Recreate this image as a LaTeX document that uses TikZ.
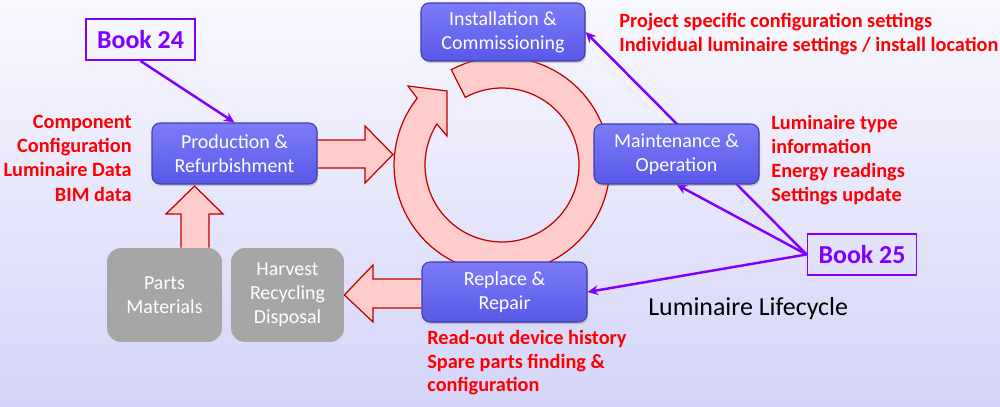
\documentclass[tikz,border=0pt]{standalone}
\usepackage{fontspec}
\setmainfont{Carlito}
\usetikzlibrary{arrows.meta,shadows,calc}
\definecolor{bgtop}{HTML}{F8F8FE}
\definecolor{bgbot}{HTML}{D4D4F8}
\definecolor{boxtop}{HTML}{7C7CF9}
\definecolor{boxbot}{HTML}{5858E8}
\definecolor{boxline}{HTML}{3E3EAE}
\definecolor{pinkfill}{HTML}{FFCCCC}
\definecolor{ringred}{HTML}{C00000}
\definecolor{bookviolet}{HTML}{8000FF}
\definecolor{greyfill}{HTML}{A6A6A6}
\pgfdeclarelayer{bg}
\pgfdeclarelayer{mid}
\pgfsetlayers{bg,mid,main}
\tikzset{
  bluebox/.style={rounded corners=0.16cm, top color=boxtop, bottom color=boxbot,
    draw=boxline, line width=0.6pt, text=white, align=center, inner sep=0pt,
    font=\fontsize{11.34}{13.6}\selectfont,
    drop shadow={shadow xshift=0.6pt, shadow yshift=-1.2pt, opacity=0.35}},
  greybox/.style={rounded corners=0.28cm, fill=greyfill, text=white, align=center,
    inner sep=0pt, font=\fontsize{11.34}{13.6}\selectfont},
  bookbox/.style={draw=bookviolet, line width=1.1pt, text=bookviolet, inner sep=0pt,
    font=\fontsize{14.74}{17}\selectfont\bfseries},
  redtxt/.style={text=red, inner sep=0pt, font=\fontsize{11.55}{13.6}\selectfont\bfseries},
  link/.style={draw=bookviolet, line width=1.4pt, -{Stealth[length=6pt,width=5.5pt]}},
  blockarrow/.style={fill=pinkfill, draw=ringred, line width=0.7pt, line join=miter}
}
\begin{document}
\begin{tikzpicture}[x=0.02cm, y=-0.02cm]
\useasboundingbox (0,0) rectangle (1000,406);
\begin{pgfonlayer}{bg}
  \fill[top color=bgtop, bottom color=bgbot] (0,0) rectangle (1000,406);
\end{pgfonlayer}

% boxes
\node[bluebox, minimum width=3.28cm, minimum height=1.16cm] (inst) at (503,32) {Installation \&\\Commissioning};
\node[bluebox, minimum width=3.3cm, minimum height=1.22cm] (prod) at (234.5,153.5) {Production \&\\Refurbishment};
\node[bluebox, minimum width=3.3cm, minimum height=1.2cm] (maint) at (676.5,154) {Maintenance \&\\Operation};
\node[bluebox, minimum width=3.3cm, minimum height=1.2cm] (repl) at (504.5,292) {Replace \&\\Repair};
\node[greybox, minimum width=2.3cm, minimum height=1.88cm] (parts) at (164.5,295) {Parts\\Materials};
\node[greybox, minimum width=2.26cm, minimum height=1.88cm] (harv) at (287.5,295) {Harvest\\Recycling\\Disposal};
\node[bookbox, minimum width=2.18cm, minimum height=0.82cm] (b24) at (140.5,39.5) {Book 24};
\node[bookbox, minimum width=2.18cm, minimum height=0.82cm] (b25) at (862,254.5) {Book 25};

\begin{pgfonlayer}{mid}
  % circular arrow
  \draw[blockarrow] plot[domain=118:-218.2, samples=90] ({502+108*cos(\x)},{165-108*sin(\x)})
     -- (408,86) -- (447,91) -- (447,136)
     -- plot[domain=-212.2:118.5, samples=90] ({502+77*cos(\x)},{165-77*sin(\x)}) -- cycle;
  % production -> cycle
  \draw[blockarrow] ($(prod.east)+(0,-13.5)$) -- (365,140) -- (365,126) -- (393,154.5)
     -- (365,183) -- (365,168) -- ($(prod.east)+(0,14.5)$);
  % parts -> production
  \draw[blockarrow] (parts.north -| 181,0) -- (181,214) -- (166,214) -- (194.5,186) -- (223,214)
     -- (209,214) -- (parts.north -| 209,0);
  % replace -> harvest
  \draw[blockarrow] (repl.west |- 0,279) -- (373,279) -- (373,265) -- (harv.east)
     -- (373,322) -- (373,308) -- (repl.west |- 0,308);
  % book links
  \draw[link] (b24.south) -- (prod.north);
  \draw[link] (b25.west) -- (inst.east);
  \draw[link] (b25.west) -- (maint.south);
  \draw[link] (b25.west) -- (repl.east);
\end{pgfonlayer}

% red annotations
\node[redtxt, anchor=base west] (p1) at (619,27.3) {Project specific configuration settings};
\node[redtxt, anchor=base west] (p2) at (619,51.7) {Individual luminaire settings / install location};

\node[redtxt, anchor=base east] (l1) at (132,128.3) {Component};
\node[redtxt, anchor=base east] (l2) at (132,152.7) {Configuration};
\node[redtxt, anchor=base east] (l3) at (132,176.7) {Luminaire Data};
\node[redtxt, anchor=base east] (l4) at (132,201) {BIM data};

\node[redtxt, anchor=base west] (r1) at (771,129.3) {Luminaire type};
\node[redtxt, anchor=base west] (r2) at (771,153) {information};
\node[redtxt, anchor=base west] (r3) at (771,177) {Energy readings};
\node[redtxt, anchor=base west] (r4) at (771,201) {Settings update};

\node[redtxt, anchor=base west] (d1) at (427,344.3) {Read-out device history};
\node[redtxt, anchor=base west] (d2) at (427,368.3) {Spare parts finding \&};
\node[redtxt, anchor=base west] (d3) at (427,391.7) {configuration};

\node[anchor=base west, inner sep=0pt, font=\fontsize{14.74}{17}\selectfont] (title) at (648,315) {Luminaire Lifecycle};
\end{tikzpicture}
\end{document}
